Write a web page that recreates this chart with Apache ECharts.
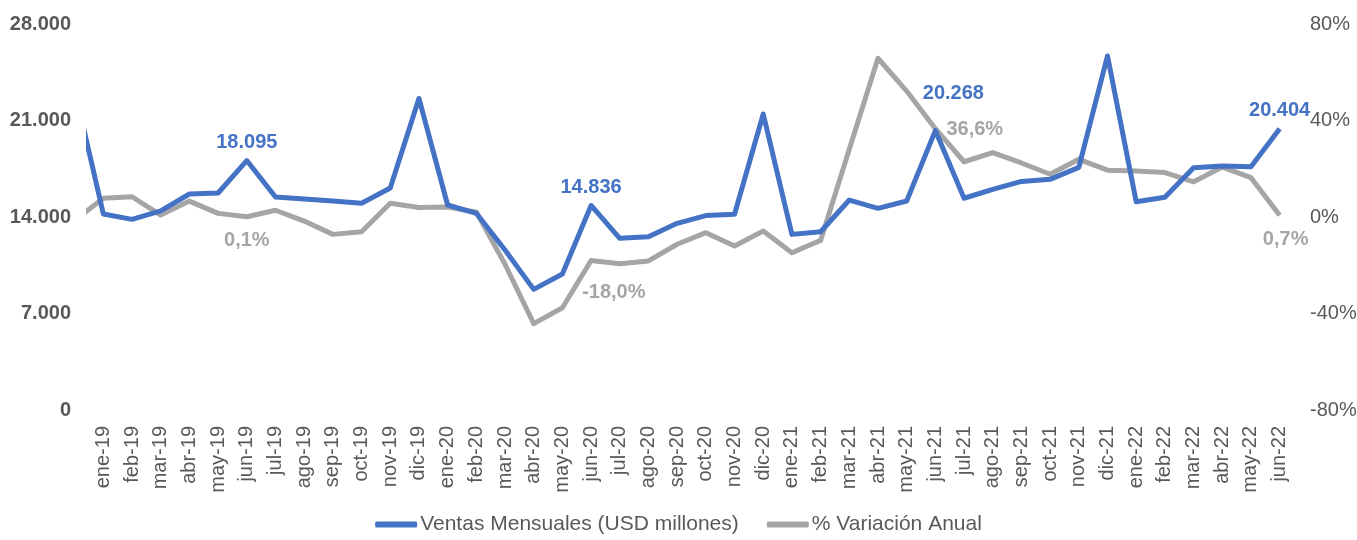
<!DOCTYPE html>
<html>
<head>
<meta charset="utf-8">
<script src="https://cdn.jsdelivr.net/npm/echarts@6/dist/echarts.min.js"></script>
<style>
  html, body { margin: 0; padding: 0; background: #fff; }
  #chart { width: 1357px; height: 540px; }
</style>
</head>
<body>
<div id="chart"></div>
<script>
// meses del eje (ene-19 .. jun-22)
const meses = ['ene-19','feb-19','mar-19','abr-19','may-19','jun-19','jul-19','ago-19','sep-19','oct-19','nov-19','dic-19',
  'ene-20','feb-20','mar-20','abr-20','may-20','jun-20','jul-20','ago-20','sep-20','oct-20','nov-20','dic-20',
  'ene-21','feb-21','mar-21','abr-21','may-21','jun-21','jul-21','ago-21','sep-21','oct-21','nov-21','dic-21',
  'ene-22','feb-22','mar-22','abr-22','may-22','jun-22']

// el primer valor es dic-18, que queda cortado en el borde izquierdo
const ventas = [23250,
  14220, 13830, 14450, 15670, 15740, 18095, 15450, 15300, 15160, 15000, 16100, 22600,
  14870, 14270, 11600, 8750, 9870, 14836, 12450, 12570, 13540, 14100, 14200, 21470,
  12740, 12930, 15230, 14630, 15160, 20268, 15360, 16010, 16580, 16730, 17600, 25680,
  15110, 15430, 17580, 17700, 17650, 20404]

const variacion = [-1.4,
  7.8, 8.4, 0.8, 6.6, 1.5, 0.1, 2.8, -1.7, -7.2, -6.1, 5.7, 3.9,
  4.1, 2.1, -19.6, -44.2, -37.6, -18.0, -19.4, -18.2, -11.3, -6.5, -12.0, -5.8,
  -14.8, -9.7, 28.1, 65.8, 52.2, 36.6, 22.9, 26.7, 22.4, 17.7, 23.9, 19.4,
  19.1, 18.4, 14.6, 20.7, 16.3, 0.7]

const ejeIzq = [0, 7000, 14000, 21000, 28000]
const ejeDer = [-80, -40, 0, 40, 80]

const AZUL = '#4472C4'
const GRIS = '#A5A5A5'
const TEXTO = '#595959'
const FUENTE = '"Liberation Sans", Arial, sans-serif'

function miles(v) {
    return Math.round(v).toString().replace(/\B(?=(\d{3})+(?!\d))/g, '.')
}
function pct(v) {
    return v.toFixed(1).replace('.', ',') + '%'
}

// etiquetas de datos (indice en meses -> posicion)
const etqVentas = { 5: { position: 'top', distance: 8 }, 17: { position: 'top', distance: 8 }, 29: { position: 'top', offset: [18, -22] }, 41: { position: 'top', distance: 8 } }
const etqVar = { 5: { position: 'bottom', distance: 14 }, 17: { position: 'right', offset: [-14, 32] }, 29: { position: 'right', offset: [6, 1] }, 41: { position: 'bottom', distance: 14, offset: [6, 0] } }

function armar(valores, etq, color, fmt) {
    return valores.map((v, i) => {
        let idx = i - 1
        let item = { value: [idx, v] }
        if (etq[idx]) {
            item.label = Object.assign({
                show: true,
                color: color,
                fontWeight: 'bold',
                fontSize: 20,
                fontFamily: FUENTE,
                formatter: () => fmt(v)
            }, etq[idx])
        }
        return item
    })
}

let myChart = echarts.init(document.getElementById('chart'))
myChart.setOption({
    animation: false,
    grid: {
        left: 89,
        right: 63,
        top: 24,
        bottom: 130,
        containLabel: false,
        outerBoundsMode: 'none'
    },
    xAxis: [
        {
            type: 'category',
            data: meses,
            boundaryGap: true,
            axisLine: { show: false },
            axisTick: { show: false },
            axisLabel: {
                interval: 0,
                rotate: 90,
                margin: 16,
                color: TEXTO,
                fontSize: 20,
                fontFamily: FUENTE
            }
        },
        {
            type: 'value',
            min: -0.5,
            max: meses.length - 0.5,
            show: false
        }
    ],
    yAxis: [
        {
            type: 'value',
            min: ejeIzq[0],
            max: ejeIzq[ejeIzq.length - 1],
            interval: 7000,
            splitLine: { show: false },
            axisLine: { show: false },
            axisTick: { show: false },
            axisLabel: {
                margin: 18,
                color: TEXTO,
                fontSize: 20,
                fontWeight: 'bold',
                fontFamily: FUENTE,
                formatter: (v) => miles(v)
            }
        },
        {
            type: 'value',
            min: ejeDer[0],
            max: ejeDer[ejeDer.length - 1],
            interval: 40,
            splitLine: { show: false },
            axisLine: { show: false },
            axisTick: { show: false },
            axisLabel: {
                margin: 16,
                color: TEXTO,
                fontSize: 20,
                fontFamily: FUENTE,
                formatter: (v) => v + '%'
            }
        }
    ],
    legend: {
        bottom: 0,
        left: 'center',
        itemWidth: 42,
        itemHeight: 6,
        itemGap: 28,
        icon: 'roundRect',
        textStyle: { color: TEXTO, fontSize: 21, fontFamily: FUENTE, padding: [0, 0, 0, -2] },
        data: ['Ventas Mensuales (USD millones)', '% Variación Anual']
    },
    series: [
        {
            name: 'Ventas Mensuales (USD millones)',
            type: 'line',
            xAxisIndex: 1,
            yAxisIndex: 0,
            data: armar(ventas, etqVentas, AZUL, miles),
            symbol: 'circle',
            symbolSize: 0.1,
            showSymbol: true,
            color: AZUL,
            lineStyle: { width: 5, color: AZUL, join: 'round' },
            z: 3
        },
        {
            name: '% Variación Anual',
            type: 'line',
            xAxisIndex: 1,
            yAxisIndex: 1,
            data: armar(variacion, etqVar, GRIS, pct),
            symbol: 'circle',
            symbolSize: 0.1,
            showSymbol: true,
            color: GRIS,
            lineStyle: { width: 5, color: GRIS, join: 'round' },
            z: 2
        }
    ]
})
</script>
</body>
</html>
